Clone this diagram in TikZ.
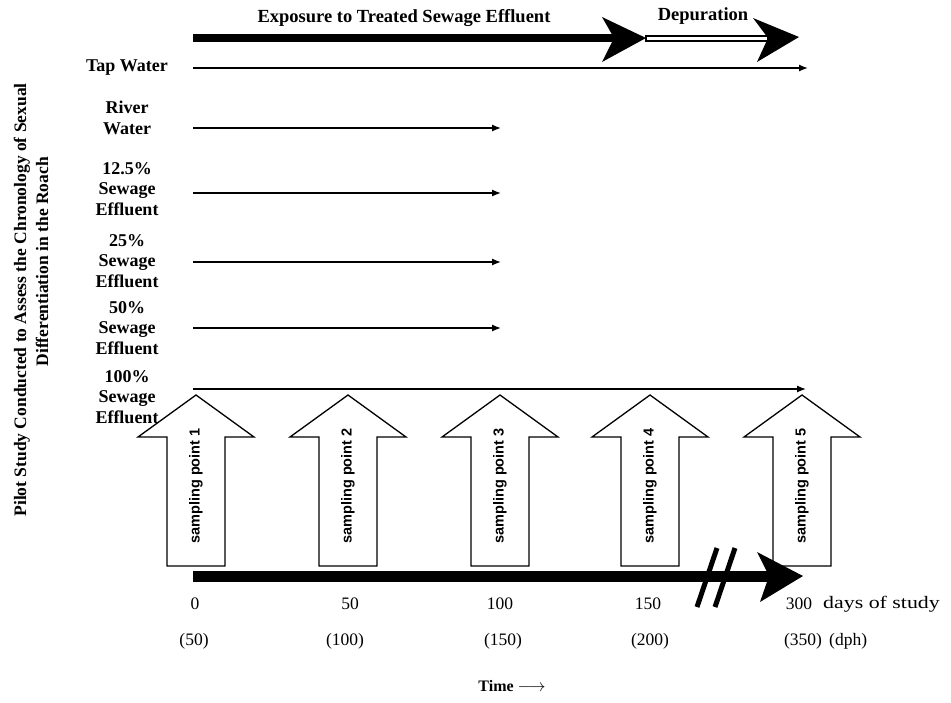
\documentclass[tikz,border=0pt]{standalone}
\usepackage{fontspec}
\setmainfont{Liberation Serif}
\newfontfamily\sampfont{Liberation Sans}
\usetikzlibrary{arrows.meta}
\begin{document}
\begin{tikzpicture}[x=1pt,y=-1pt,
  lbl/.style={font=\bfseries\fontsize{18}{20.5}\selectfont, align=center, inner sep=0pt},
  toplbl/.style={font=\bfseries\fontsize{18.5}{21}\selectfont, inner sep=0pt},
  ticklbl/.style={font=\fontsize{17.5}{20}\selectfont, inner sep=0pt},
  titlelbl/.style={font=\bfseries\fontsize{17.5}{21}\selectfont, inner sep=0pt, rotate=90},
  thinarrow/.style={line width=1.3pt, -{Latex[length=9pt,width=7pt]}},
  sampbox/.style={draw=black, line width=1.3pt, fill=white, line join=miter},
  samptext/.style={font=\sampfont\bfseries\fontsize{14.5}{16}\selectfont, rotate=90, inner sep=0pt},
  headfill/.style={fill=black}
]
\useasboundingbox[fill=white] (0,0) rectangle (951,702);

% ---- left title
\node[titlelbl, anchor=east] (title1) at (22,83) {Pilot Study Conducted to Assess the Chronology of Sexual};
\node[titlelbl, anchor=east] (title2) at (42,157) {Differentiation in the Roach};

% ---- top phase arrows
\node[toplbl] (expo) at (404,18) {Exposure to Treated Sewage Effluent};
\node[toplbl] (depur) at (703,16) {Depuration};
\coordinate (expS) at (193,38);
\coordinate (expE) at (614,38);
\coordinate (depS) at (645,38);
\coordinate (depE) at (768,38);
\draw[line width=8pt] (expS) -- (expE);
\draw[line width=7pt] (depS) -- (depE);
\draw[white, line width=3pt] ([xshift=2pt]depS) -- ([xshift=-1pt]depE);
\fill[headfill] (602,17) -- (646,38) -- (602,62) -- (614,38) -- cycle;
\fill[headfill] (753,18) -- (799,37) -- (757,62) -- (768,38) -- cycle;

% ---- treatment labels and arrows
\node[lbl] (tap) at (127,68) {Tap Water};
\node[lbl] (river) at (127,118) {River\\Water};
\node[lbl] (s125) at (127,189) {12.5\%\\Sewage\\Effluent};
\node[lbl] (s25) at (127,261) {25\%\\Sewage\\Effluent};
\node[lbl] (s50) at (127,328) {50\%\\Sewage\\Effluent};
\node[lbl] (s100) at (127,397) {100\%\\Sewage\\Effluent};

\coordinate (tapS) at (193,68);   \coordinate (tapE) at (808,68);
\coordinate (rivS) at (193,128);  \coordinate (rivE) at (501,128);
\coordinate (a125S) at (193,193); \coordinate (a125E) at (501,193);
\coordinate (a25S) at (193,262);  \coordinate (a25E) at (501,262);
\coordinate (a50S) at (193,328);  \coordinate (a50E) at (501,328);
\coordinate (a100S) at (193,389); \coordinate (a100E) at (806,389);
\draw[thinarrow] (tapS) -- (tapE);
\draw[thinarrow] (rivS) -- (rivE);
\draw[thinarrow] (a125S) -- (a125E);
\draw[thinarrow] (a25S) -- (a25E);
\draw[thinarrow] (a50S) -- (a50E);
\draw[thinarrow] (a100S) -- (a100E);

% ---- sampling point block arrows
\foreach \cx/\n in {196/1, 348/2, 500/3, 650/4, 802/5} {
  \draw[sampbox] (\cx,395) -- (\cx+58,437) -- (\cx+29,437) -- (\cx+29,566)
     -- (\cx-29,566) -- (\cx-29,437) -- (\cx-58,437) -- cycle;
  \node[samptext] (samp\n) at (\cx,486) {sampling point \n};
}

% ---- time axis
\coordinate (axS) at (193,576);
\coordinate (axE) at (770,576);
\draw[line width=11pt] (axS) -- (axE);
\fill[headfill] (757,552) -- (803,576) -- (760,602) -- (769,576) -- cycle;
\coordinate (br1a) at (717,548); \coordinate (br1b) at (697,607);
\coordinate (br2a) at (735,548); \coordinate (br2b) at (715,607);
\draw[line width=5pt] (br1a) -- (br1b);
\draw[line width=5pt] (br2a) -- (br2b);

% ---- tick labels
\node[ticklbl] (d0) at (195,604) {0};
\node[ticklbl] (d50) at (350,604) {50};
\node[ticklbl] (d100) at (500,604) {100};
\node[ticklbl] (d150) at (648,604) {150};
\node[ticklbl] (d300) at (799,604) {300};
\node[ticklbl, anchor=west] (dunit) at (823,604) {\scalebox{1.25}[1]{days of study}};
\node[ticklbl] (p50) at (194,641) {(50)};
\node[ticklbl] (p100) at (345,641) {(100)};
\node[ticklbl] (p150) at (503,641) {(150)};
\node[ticklbl] (p200) at (650,641) {(200)};
\node[ticklbl] (p350) at (803,641) {(350)};
\node[ticklbl, anchor=west] (punit) at (829,641) {(dph)};

\node[font=\bfseries\fontsize{16}{19}\selectfont, inner sep=0pt] (time) at (512,686) {Time $\longrightarrow$};
\end{tikzpicture}
\end{document}
